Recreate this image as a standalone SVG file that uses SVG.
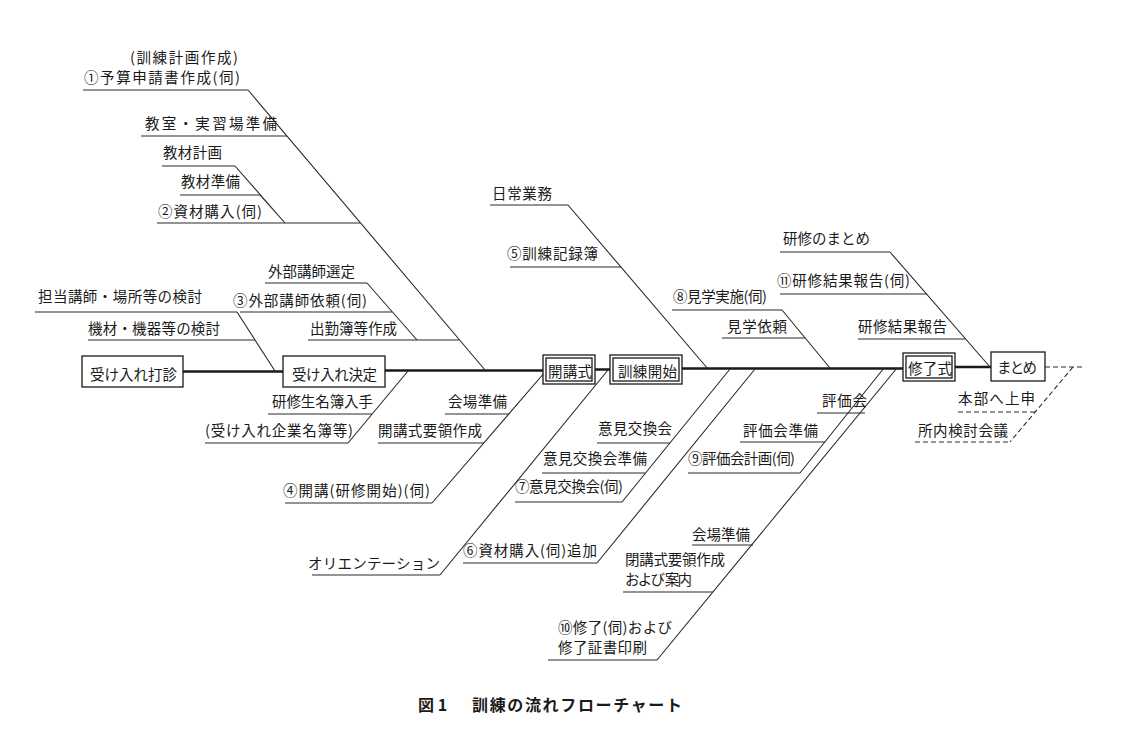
<svg xmlns="http://www.w3.org/2000/svg" width="1129" height="739" viewBox="0 0 1129 739">
<style>
text{font-family:"Noto Sans CJK JP","Noto Sans CJK SC",sans-serif;font-size:14.5px;fill:#1a1a1a}
.cap{font-size:16px;font-weight:bold}
.ul,.dg{stroke:#2a2a2a;stroke-width:1.1;fill:none}
.main{stroke:#1a1a1a;stroke-width:2.4;fill:none}
.box{fill:#fff;stroke:#1a1a1a;stroke-width:1.3}
.dash{stroke:#2a2a2a;stroke-width:1.1;fill:none;stroke-dasharray:5 3}
</style>
<rect width="1129" height="739" fill="#fff"/>
<g id="connectors">
<path class="main" d="M183 371.5H283M385 370.5H543M595 369.5H610M682 368.5H903M955 367H991"/>
<path class="dash" d="M1045 367H1085M1073 367L1010 442"/>
<path class="dg" d="M248 90L485 370M235 166L285 223M260 195L285 223M367 283L417 340M237 312L275 371M408 371L348 443M432 503L545 372M440 575L608 370M622 502L730 369M597 563L755 369M568 205L708 369M782 310L830 368M800 473L884 368M657 660L897 368M890 252L990 367"/>
</g>
<g id="n-ukeire-dashin"><rect class="box" x="82" y="356" width="101" height="31"/><text x="90" y="380" textLength="87">受け入れ打診</text></g>
<g id="n-ukeire-kettei"><rect class="box" x="283" y="356" width="102" height="31"/><text x="292" y="380" textLength="85">受け入れ決定</text></g>
<g id="n-kaikoshiki"><rect class="box" x="543" y="355" width="52" height="29"/><rect class="box" x="546" y="358" width="46" height="23"/><text x="548" y="377" textLength="44">開講式</text></g>
<g id="n-kunren-kaishi"><rect class="box" x="610" y="355" width="72" height="29"/><rect class="box" x="613" y="358" width="66" height="23"/><text x="618" y="377" textLength="59">訓練開始</text></g>
<g id="n-shuryoshiki"><rect class="box" x="903" y="353" width="52" height="28"/><rect class="box" x="906" y="356" width="46" height="22"/><text x="908" y="374" textLength="44">修了式</text></g>
<g id="n-matome"><rect class="box" x="991" y="352" width="54" height="29"/><text x="997" y="373" textLength="40">まとめ</text></g>
<g id="l1"><text x="130" y="63" textLength="108">(訓練計画作成)</text><text x="84" y="83" textLength="156">①予算申請書作成(伺)</text><path class="ul" d="M83 90H248"/></g>
<g id="l2"><text x="145" y="129" textLength="132">教室・実習場準備</text><path class="ul" d="M141 136H287"/></g>
<g id="l3"><text x="163" y="158" textLength="59">教材計画</text><path class="ul" d="M162 166H235"/></g>
<g id="l4"><text x="181" y="187" textLength="59">教材準備</text><path class="ul" d="M180 195H260"/></g>
<g id="l5"><text x="158" y="217" textLength="104">②資材購入(伺)</text><path class="ul" d="M157 223H360"/></g>
<g id="l6"><text x="268" y="277" textLength="87">外部講師選定</text><path class="ul" d="M265 283H367"/></g>
<g id="l7"><text x="233" y="306" textLength="134">③外部講師依頼(伺)</text><path class="ul" d="M240 312H392"/></g>
<g id="l8"><text x="38" y="302" textLength="164">担当講師・場所等の検討</text><path class="ul" d="M35 312H237"/></g>
<g id="l9"><text x="88" y="334" textLength="132">機材・機器等の検討</text><path class="ul" d="M88 340H255"/></g>
<g id="l10"><text x="310" y="334" textLength="87">出勤簿等作成</text><path class="ul" d="M308 340H459"/></g>
<g id="l11"><text x="272" y="407" textLength="101">研修生名簿入手</text><path class="ul" d="M268 414H372"/></g>
<g id="l12"><text x="205" y="436" textLength="148">(受け入れ企業名簿等)</text><path class="ul" d="M205 443H348"/></g>
<g id="l13"><text x="448" y="407" textLength="59">会場準備</text><path class="ul" d="M445 414H509"/></g>
<g id="l14"><text x="378" y="436" textLength="104">開講式要領作成</text><path class="ul" d="M378 443H484"/></g>
<g id="l15"><text x="283" y="496" textLength="147">④開講(研修開始)(伺)</text><path class="ul" d="M285 503H432"/></g>
<g id="l16"><text x="308" y="569" textLength="132">オリエンテーション</text><path class="ul" d="M312 575H440"/></g>
<g id="l17"><text x="598" y="434" textLength="74">意見交換会</text><path class="ul" d="M597 443H670"/></g>
<g id="l18"><text x="543" y="464" textLength="104">意見交換会準備</text><path class="ul" d="M542 473H645"/></g>
<g id="l19"><text x="515" y="492" textLength="108">⑦意見交換会(伺)</text><path class="ul" d="M515 502H622"/></g>
<g id="l20"><text x="463" y="556" textLength="134">⑥資材購入(伺)追加</text><path class="ul" d="M463 563H597"/></g>
<g id="l21"><text x="492" y="199" textLength="60">日常業務</text><path class="ul" d="M490 205H568"/></g>
<g id="l22"><text x="507" y="259" textLength="91">⑤訓練記録簿</text><path class="ul" d="M510 267H621"/></g>
<g id="l23"><text x="673" y="302" textLength="94">⑧見学実施(伺)</text><path class="ul" d="M672 310H782"/></g>
<g id="l24"><text x="727" y="332" textLength="60">見学依頼</text><path class="ul" d="M722 338H805"/></g>
<g id="l25"><text x="822" y="406" textLength="45">評価会</text><path class="ul" d="M817 413H865"/></g>
<g id="l26"><text x="743" y="436" textLength="75">評価会準備</text><path class="ul" d="M740 442H825"/></g>
<g id="l27"><text x="688" y="464" textLength="107">⑨評価会計画(伺)</text><path class="ul" d="M688 473H800"/></g>
<g id="l28"><text x="692" y="540" textLength="58">会場準備</text><path class="ul" d="M692 545H753"/></g>
<g id="l29"><text x="625" y="565" textLength="100">閉講式要領作成</text><text x="625" y="585" textLength="67">および 案内</text><path class="ul" d="M623 592H713"/></g>
<g id="l30"><text x="558" y="633" textLength="114">⑩修了(伺)および</text><text x="558" y="653" textLength="89">修了証書印刷</text><path class="ul" d="M548 660H657"/></g>
<g id="l31"><text x="783" y="244" textLength="87">研修のまとめ</text><path class="ul" d="M780 252H890"/></g>
<g id="l32"><text x="777" y="286" textLength="133">⑪研修結果報告(伺)</text><path class="ul" d="M780 294H927"/></g>
<g id="l33"><text x="858" y="332" textLength="89">研修結果報告</text><path class="ul" d="M858 339H965"/></g>
<g id="l34"><text x="958" y="404" textLength="77">本部へ上申</text><path class="dash" d="M958 412H1036"/></g>
<g id="l35"><text x="918" y="436" textLength="90">所内検討会議</text><path class="dash" d="M915 442H1010"/></g>
<g id="caption"><text class="cap" x="418" y="711">図 1</text><text class="cap" x="472" y="711" textLength="210">訓練の流れフローチャート</text></g>
</svg>
